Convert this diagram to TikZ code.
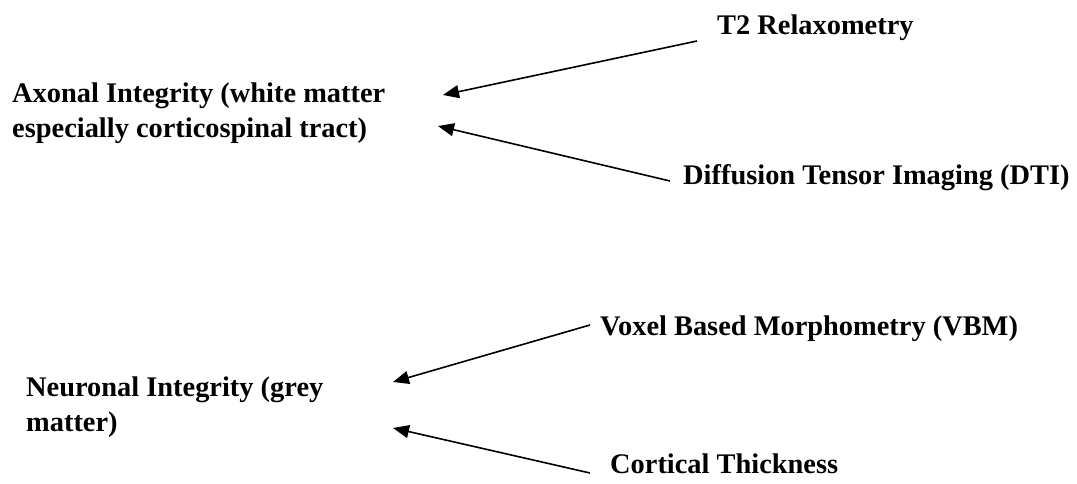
\documentclass[tikz,border=0pt]{standalone}
\usepackage{fontspec}
\setmainfont{Liberation Serif}
\usetikzlibrary{arrows.meta}
\begin{document}
\begin{tikzpicture}[x=1pt,y=-1pt,
  lbl/.style={font=\fontsize{28.4}{35}\selectfont\bfseries, inner sep=0pt, anchor=base west, align=left},
  conn/.style={line width=1.6pt, -{Triangle[length=16pt,width=13pt]}}]
\useasboundingbox (0,0) rectangle (1077,484);
% labels (multi-line nodes are anchored at the baseline of their last line)
\node[lbl] (axon) at (12,138) {Axonal Integrity (white matter\\especially corticospinal tract)};
\node[lbl] (t2) at (717,35) {T2 Relaxometry};
\node[lbl] (dti) at (683,185) {Diffusion Tensor Imaging (DTI)};
\node[lbl] (neur) at (26,431) {Neuronal Integrity (grey\\matter)};
\node[lbl] (vbm) at (600,335) {Voxel Based Morphometry (VBM)};
\node[lbl] (ct) at (610,473) {Cortical Thickness};
% connector ends
\coordinate (s1) at (697,41);
\coordinate (p1) at (443,95);
\coordinate (s2) at (670,181);
\coordinate (p2) at (438,126);
\coordinate (s3) at (590,325);
\coordinate (p3) at (393,382);
\coordinate (s4) at (590,473);
\coordinate (p4) at (393,428);
\draw[conn] (s1) -- (p1);
\draw[conn] (s2) -- (p2);
\draw[conn] (s3) -- (p3);
\draw[conn] (s4) -- (p4);
\end{tikzpicture}
\end{document}
